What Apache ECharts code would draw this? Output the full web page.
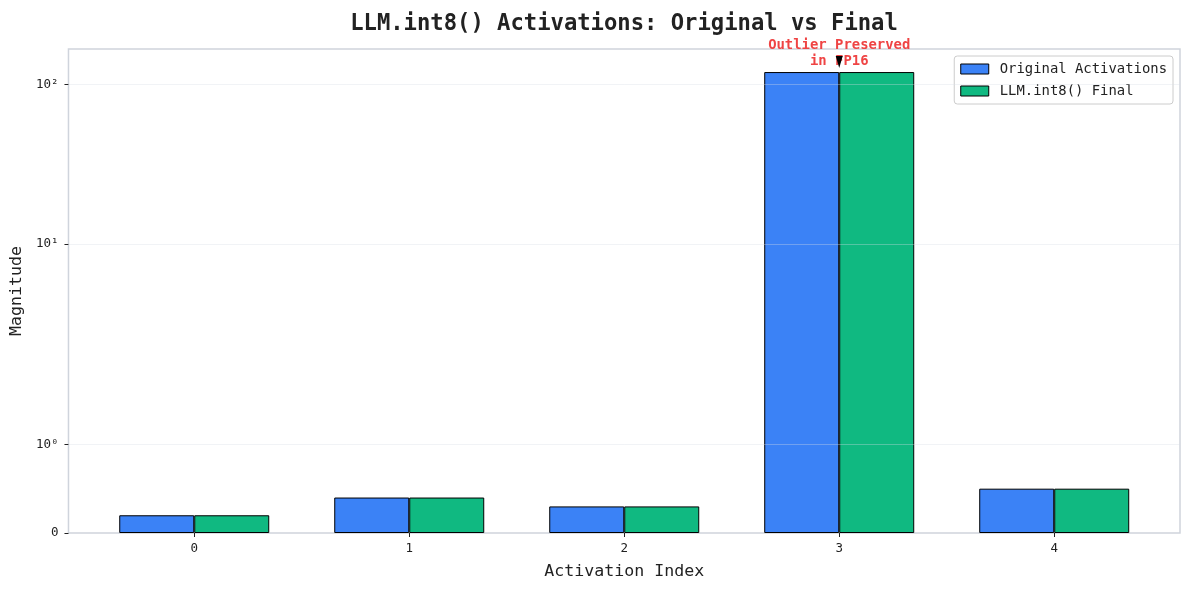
<!DOCTYPE html>
<html>
<head>
<meta charset="utf-8">
<script src="https://cdn.jsdelivr.net/npm/echarts@6/dist/echarts.min.js"></script>
<style>
  html, body { margin: 0; padding: 0; background: #fff; }
  #main { width: 1190px; height: 590px; }
</style>
</head>
<body>
<div id="main"></div>
<script>
// data
var indices = [0, 1, 2, 3, 4];
var originalVals = [0.2, 0.4, 0.3, 120, 0.5];
var finalVals = [0.2, 0.4, 0.3, 120, 0.5];
var yTickVals = [0, 1, 10, 100];
var yTickText = ['0', '10⁰', '10¹', '10²'];
var outlierIdx = 3;

// symlog, linthresh 2, linscale 1 (same as matplotlib)
var LINTHRESH = 2;
var LINADJ = 1 / (1 - 1 / 10);
function symlog(v) {
    var a = Math.abs(v);
    if (a <= LINTHRESH) return v * LINADJ;
    return Math.sign(v) * LINTHRESH * (LINADJ + Math.log10(a / LINTHRESH));
}

var mono = '"DejaVu Sans Mono", monospace';
var yTickPos = yTickVals.map(symlog);
var yMax = symlog(Math.max.apply(null, originalVals)) * 1.05;

function pairs(vals) {
    return vals.map(function(v, i) { return [indices[i], symlog(v)]; });
}

var mChart = echarts.init(document.getElementById('main'));
mChart.setOption({
    animation: false,
    title: {
        text: 'LLM.int8() Activations: Original vs Final',
        left: 619, top: 8, textAlign: 'center',
        textStyle: { fontFamily: mono, fontSize: 22.2, fontWeight: 'bold', color: '#222' }
    },
    legend: {
        data: ['Original Activations', 'LLM.int8() Final'],
        orient: 'vertical', right: 17, top: 56,
        backgroundColor: '#fff', borderColor: '#ccc', borderWidth: 1, borderRadius: 3,
        padding: [6, 6, 6, 6], itemGap: 8,
        icon: 'rect', itemWidth: 28, itemHeight: 10,
        itemStyle: { borderColor: '#000', borderWidth: 1 },
        textStyle: { fontFamily: mono, fontSize: 13.9, color: '#222', padding: [0, 0, 0, 6] }
    },
    grid: {
        left: 67, right: 10, top: 49, bottom: 57,
        show: true, borderColor: '#cfd4dc', borderWidth: 1.5
    },
    xAxis: {
        type: 'value', min: -0.585, max: 4.585,
        name: 'Activation Index', nameLocation: 'middle', nameGap: 30,
        nameTextStyle: { fontFamily: mono, fontSize: 16.6, color: '#222' },
        axisLine: { show: false, onZero: false },
        splitLine: { show: false },
        axisTick: { show: true, length: 4, customValues: indices, lineStyle: { color: '#222' } },
        axisLabel: { customValues: indices, fontFamily: mono, fontSize: 12.5, color: '#222', margin: 9 }
    },
    yAxis: {
        type: 'value', min: 0, max: yMax,
        name: 'Magnitude', nameLocation: 'middle', nameGap: 42,
        nameTextStyle: { fontFamily: mono, fontSize: 16.6, color: '#222' },
        axisLine: { show: false, onZero: false },
        splitLine: { show: false },
        axisTick: { show: true, length: 4, customValues: yTickPos, lineStyle: { color: '#222' } },
        axisLabel: {
            customValues: yTickPos, fontFamily: mono, fontSize: 12.5, color: '#222', margin: 10,
            formatter: function(v) {
                for (var i = 0; i < yTickPos.length; i++) {
                    if (Math.abs(yTickPos[i] - v) < 1e-6) return yTickText[i];
                }
                return '';
            }
        }
    },
    series: [
        {
            name: 'Original Activations', type: 'bar',
            barWidth: 75, barGap: '0%',
            itemStyle: { color: '#3b82f6', borderColor: '#000', borderWidth: 1 },
            data: pairs(originalVals)
        },
        {
            name: 'LLM.int8() Final', type: 'bar',
            barWidth: 75, barGap: '0%',
            itemStyle: { color: '#10b981', borderColor: '#000', borderWidth: 1 },
            data: pairs(finalVals),
            markLine: {
                silent: true, symbol: 'none', label: { show: false },
                lineStyle: { color: 'rgba(215,220,228,0.35)', type: 'solid', width: 1 },
                data: yTickPos.slice(1).map(function(p) { return { yAxis: p }; })
            }
        },
        {
            // annotation text above the outlier bar
            name: 'annotText', type: 'scatter', silent: true, z: 9,
            symbolSize: 0,
            itemStyle: { opacity: 1 },
            label: {
                show: true, position: 'top', distance: 0, offset: [0, -3],
                formatter: 'Outlier Preserved\nin FP16',
                fontFamily: mono, fontSize: 13.9, fontWeight: 'bold', opacity: 1,
                color: '#ef4444', lineHeight: 16, align: 'center'
            },
            data: [pairs(originalVals)[outlierIdx]]
        },
        {
            // arrow head drawn over the text
            name: 'annotArrow', type: 'scatter', silent: true, z: 11,
            symbol: 'triangle', symbolRotate: 180, symbolSize: [7, 12],
            symbolOffset: [0, -10],
            itemStyle: { color: '#000', opacity: 1 },
            label: { show: false },
            data: [pairs(originalVals)[outlierIdx]]
        }
    ]
});
</script>
</body>
</html>
